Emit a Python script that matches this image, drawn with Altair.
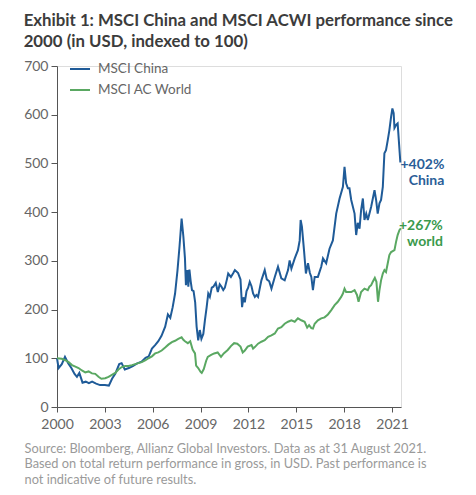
import altair as alt
import pandas as pd

# ---- data (indexed to 100 at start of 2000) ----
china_years = [
    2000.00, 2000.10, 2000.30, 2000.50, 2000.70, 2000.90, 2001.10, 2001.25, 2001.40, 2001.60,
    2001.80, 2002.00, 2002.20, 2002.45, 2002.70, 2003.00, 2003.25, 2003.45, 2003.65, 2003.90,
    2004.05, 2004.25, 2004.50, 2004.75, 2005.00, 2005.30, 2005.55, 2005.75, 2005.95, 2006.15,
    2006.35, 2006.55, 2006.78, 2006.95, 2007.10, 2007.25, 2007.40, 2007.55, 2007.68, 2007.81,
    2007.92, 2008.02, 2008.08, 2008.17, 2008.23, 2008.30, 2008.38, 2008.46, 2008.56, 2008.66,
    2008.75, 2008.85, 2008.95, 2009.05, 2009.17, 2009.27, 2009.38, 2009.48, 2009.58, 2009.70,
    2009.80, 2009.95, 2010.08, 2010.20, 2010.31, 2010.42, 2010.52, 2010.65, 2010.73, 2010.90,
    2011.05, 2011.15, 2011.35, 2011.50, 2011.60, 2011.68, 2011.77, 2011.88, 2011.98, 2012.08,
    2012.19, 2012.29, 2012.40, 2012.50, 2012.60, 2012.81, 2013.02, 2013.15, 2013.30, 2013.44,
    2013.65, 2013.85, 2014.06, 2014.27, 2014.48, 2014.58, 2014.69, 2014.90, 2015.10, 2015.21,
    2015.27, 2015.35, 2015.48, 2015.60, 2015.73, 2015.85, 2015.94, 2016.04, 2016.15, 2016.35,
    2016.56, 2016.67, 2016.87, 2017.08, 2017.29, 2017.50, 2017.71, 2017.92, 2018.02, 2018.12,
    2018.23, 2018.33, 2018.44, 2018.65, 2018.75, 2018.85, 2018.96, 2019.06, 2019.17, 2019.27,
    2019.38, 2019.48, 2019.69, 2019.90, 2020.00, 2020.10, 2020.21, 2020.31, 2020.42, 2020.52,
    2020.62, 2020.73, 2020.83, 2020.94, 2021.02, 2021.10, 2021.15, 2021.25, 2021.35, 2021.52,
]
china_vals = [
    100, 80, 88, 103, 90, 80, 68, 62, 70, 50,
    52, 49, 52, 48, 45, 45, 44, 58, 68, 88,
    90, 77, 80, 84, 89, 93, 101, 104, 120, 127,
    135, 146, 165, 190, 183, 205, 233, 280, 330, 387,
    350, 305, 250, 281, 247, 282, 258, 240, 238, 215,
    165, 137, 158, 140, 150, 178, 205, 233, 226, 245,
    247, 255, 236, 252, 247, 240, 245, 262, 274, 267,
    275, 281, 275, 262, 205, 225, 215, 238, 245, 257,
    248, 233, 226, 230, 226, 260, 281, 262, 258, 243,
    267, 288, 264, 260, 281, 301, 284, 305, 322, 342,
    384, 370, 322, 274, 295, 275, 267, 240, 267, 267,
    288, 305, 295, 325, 342, 397, 428, 452, 493, 459,
    449, 449, 425, 397, 353, 378, 366, 404, 428, 384,
    397, 384, 411, 445, 425, 397, 418, 425, 452, 521,
    527, 548, 568, 596, 613, 603, 573, 579, 582, 502,
]

world_years = [
    2000.00, 2000.30, 2000.52, 2000.73, 2000.94, 2001.15, 2001.35, 2001.56, 2001.77, 2001.98,
    2002.19, 2002.40, 2002.60, 2002.78, 2003.02, 2003.23, 2003.44, 2003.65, 2003.85, 2004.06,
    2004.27, 2004.48, 2004.70, 2004.90, 2005.10, 2005.31, 2005.55, 2005.73, 2005.95, 2006.15,
    2006.35, 2006.56, 2006.78, 2006.98, 2007.20, 2007.40, 2007.60, 2007.81, 2007.92, 2008.02,
    2008.20, 2008.35, 2008.50, 2008.65, 2008.72, 2008.85, 2009.00, 2009.07, 2009.20, 2009.35,
    2009.45, 2009.66, 2009.85, 2010.07, 2010.28, 2010.45, 2010.70, 2010.90, 2011.10, 2011.30,
    2011.50, 2011.64, 2011.77, 2011.95, 2012.19, 2012.29, 2012.40, 2012.60, 2012.81, 2013.02,
    2013.23, 2013.44, 2013.65, 2013.85, 2014.06, 2014.27, 2014.48, 2014.69, 2014.90, 2015.10,
    2015.31, 2015.52, 2015.68, 2015.80, 2015.94, 2016.04, 2016.15, 2016.35, 2016.56, 2016.77,
    2016.98, 2017.19, 2017.40, 2017.60, 2017.81, 2017.92, 2018.02, 2018.12, 2018.23, 2018.44,
    2018.65, 2018.80, 2018.90, 2019.06, 2019.27, 2019.48, 2019.58, 2019.69, 2019.79, 2019.92,
    2020.02, 2020.12, 2020.21, 2020.31, 2020.42, 2020.52, 2020.62, 2020.73, 2020.83, 2020.94,
    2021.15, 2021.25, 2021.35, 2021.46, 2021.55,
]
world_vals = [
    100, 99, 96, 92, 86, 83, 80, 75, 71, 73,
    69, 68, 62, 58, 59, 62, 66, 70, 77, 82,
    84, 84, 86, 88, 90, 92, 96, 100, 104, 110,
    112, 116, 122, 128, 133, 136, 140, 143, 138, 135,
    131, 135, 118, 110, 85, 80, 72, 70, 78, 95,
    103, 107, 110, 112, 103, 110, 117, 125, 131, 130,
    124, 112, 116, 124, 127, 120, 123, 130, 134, 137,
    144, 147, 151, 161, 164, 171, 175, 178, 175, 182,
    178, 175, 163, 168, 162, 161, 171, 178, 182, 184,
    190, 199, 209, 216, 226, 233, 243, 236, 236, 236,
    240, 230, 216, 236, 243, 240, 247, 250, 257, 265,
    257, 216, 240, 260, 274, 281, 277, 295, 312, 318,
    322, 339, 353, 363, 367,
]

series_names = ["MSCI China", "MSCI AC World"]
series_colors = ["#1f5b98", "#5aa862"]
label_colors = ["#2a5e98", "#3a9a4c"]
end_labels = ["+402%\nChina", "+267%\nworld"]

x_ticks = [2000, 2003, 2006, 2009, 2012, 2015, 2018, 2021]
y_ticks = [0, 100, 200, 300, 400, 500, 600, 700]

title_lines = [
    "Exhibit 1: MSCI China and MSCI ACWI performance since",
    "2000 (in USD, indexed to 100)",
]
footer_lines = [
    "Source: Bloomberg, Allianz Global Investors. Data as at 31 August 2021.",
    "Based on total return performance in gross, in USD. Past performance is",
    "not indicative of future results.",
]

FONT = "Lato"

df = pd.concat([
    pd.DataFrame({"year": china_years, "value": china_vals, "series": series_names[0]}),
    pd.DataFrame({"year": world_years, "value": world_vals, "series": series_names[1]}),
], ignore_index=True)

ends = pd.DataFrame({
    "year": [china_years[-1], world_years[-1]],
    "value": [china_vals[-1], world_vals[-1]],
    "series": series_names,
    "label": end_labels,
})

x_enc = alt.X(
    "year:Q",
    scale=alt.Scale(domain=[2000, 2021.56], nice=False, zero=False),
    axis=alt.Axis(
        values=x_ticks, format="d", grid=False,
        title=footer_lines, titleAnchor="start", titleAlign="left",
        titleX=-33, titleY=35, titleBaseline="top",
        titleFontSize=12.8, titleFontWeight="normal", titleColor="#9a9a9a",
        titleLineHeight=15.5, titleFont=FONT,
        labelFontSize=14, labelColor="#666666", labelFont=FONT, labelPadding=5,
        tickSize=5, tickColor="#555555", domainColor="#555555",
        labelFlush=False,
    ),
)
y_enc = alt.Y(
    "value:Q",
    scale=alt.Scale(domain=[0, 700], nice=False),
    axis=alt.Axis(
        values=y_ticks, grid=False, title=None,
        labelFontSize=14, labelColor="#666666", labelFont=FONT, labelPadding=3,
        tickSize=6, tickColor="#555555", domainColor="#555555",
    ),
)
color_enc = alt.Color(
    "series:N",
    scale=alt.Scale(domain=series_names, range=series_colors),
    sort=series_names,
    legend=alt.Legend(
        title=None, orient="none", legendX=12, legendY=-8,
        symbolType="stroke", symbolStrokeWidth=2, symbolSize=400,
        labelFontSize=13.5, labelColor="#666666", labelFont=FONT,
        rowPadding=3, labelOffset=7,
    ),
)

lines = alt.Chart(df).mark_line(strokeWidth=2).encode(
    x=x_enc, y=y_enc, color=color_enc, detail="series:N"
)

china_lbl = alt.Chart(ends).transform_filter(
    alt.datum.series == series_names[0]
).mark_text(
    align="right", baseline="top", dx=44, dy=-4, lineBreak="\n",
    fontSize=14, fontWeight="bold", font=FONT, color=label_colors[0], lineHeight=16,
).encode(x="year:Q", y="value:Q", text="label:N")

world_lbl = alt.Chart(ends).transform_filter(
    alt.datum.series == series_names[1]
).mark_text(
    align="right", baseline="top", dx=42, dy=-9, lineBreak="\n",
    fontSize=14, fontWeight="bold", font=FONT, color=label_colors[1], lineHeight=16,
).encode(x="year:Q", y="value:Q", text="label:N")

chart = alt.layer(lines, china_lbl, world_lbl).properties(
    width=344,
    height=341,
    padding={"left": 15, "top": 5, "right": 5, "bottom": 5},
    title=alt.TitleParams(
        text=title_lines, anchor="start", frame="bounds",
        fontSize=16.8, fontWeight="bold", font=FONT, color="#3c3c3c",
        lineHeight=21, offset=7,
    ),
).configure_view(stroke=None).configure(background="white")

chart.save("out.html", embed_options={"renderer": "svg", "actions": False})
